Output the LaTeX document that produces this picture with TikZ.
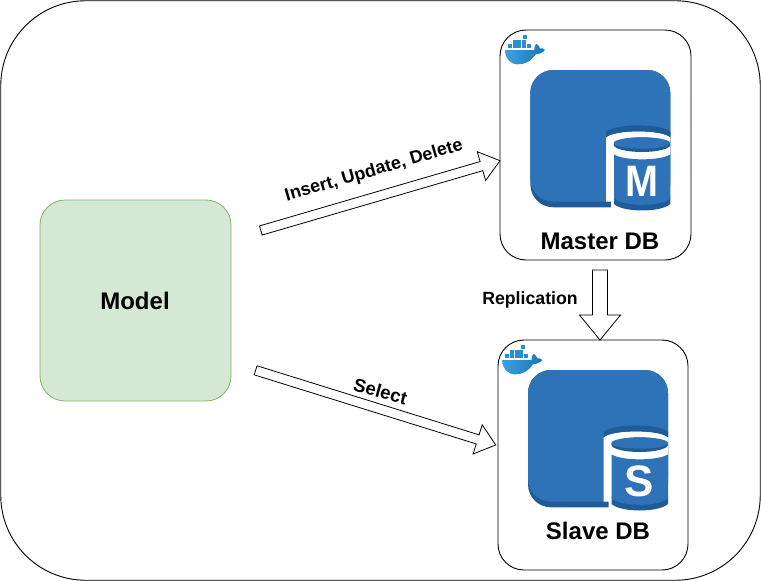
\documentclass[tikz,border=0pt]{standalone}
\usepackage{fontspec}
\setmainfont{Liberation Sans}
\usetikzlibrary{calc}
\definecolor{awsblue}{HTML}{2E73B8}
\definecolor{awsdark}{HTML}{205B99}
\definecolor{dockblue}{HTML}{2B8FCC}
\definecolor{dockdark}{HTML}{1478BC}
\definecolor{dockleft}{HTML}{3FA0DC}
\definecolor{modelfill}{HTML}{D5E8D4}
\definecolor{modelline}{HTML}{82B366}
\tikzset{
  card/.style={draw=black,line width=.9pt,fill=white,rounded corners=26pt,inner sep=0,outer sep=0},
  outercard/.style={draw=black,line width=.9pt,fill=white,rounded corners=85pt,inner sep=0,outer sep=0},
  modelbox/.style={draw=modelline,line width=.8pt,fill=modelfill,rounded corners=25pt,inner sep=0,outer sep=0},
  boldlabel/.style={font=\fontsize{24}{28}\selectfont\bfseries,inner sep=0},
  smalllabel/.style={font=\fontsize{#1}{20}\selectfont\bfseries,inner sep=0},
  blockarrow/.style={draw=black,line width=.8pt,fill=white,line join=miter},
  letter/.style={font=\fontsize{44}{50}\selectfont\bfseries,text=white,inner sep=0},
}
% tail, tip, shaft half width, head half width, head length
\newcommand{\blockarr}[5]{%
  \draw[blockarrow]
    ($(#1)!#3pt!90:(#2)$) --
    ($($(#2)!#5pt!(#1)$)!#3pt!90:(#2)$) --
    ($($(#2)!#5pt!(#1)$)!#4pt!90:(#2)$) --
    (#2) --
    ($($(#2)!#5pt!(#1)$)!#4pt!-90:(#2)$) --
    ($($(#2)!#5pt!(#1)$)!#3pt!-90:(#2)$) --
    ($(#1)!#3pt!-90:(#2)$) -- cycle;}
\newcommand{\dbicon}[4]{%
  \begin{scope}[shift={(#1,#2)},x=.33333pt,y=-.33333pt]
    \fill[awsdark,rounded corners=23pt] (106,150) rectangle (526,562);
    \fill[awsblue,rounded corners=23pt] (106,150) rectangle (526,545);
    \begin{scope}
      \clip (320,300) rectangle (526,590);
      \fill[white] (333,352) .. controls (360,328) and (500,328) .. (526,352)
        -- (540,590) -- (348,590) -- (348,545) -- (333,545) -- cycle;
      \fill[awsdark] (333,335) .. controls (360,310) and (500,310) .. (526,335)
        -- (526,352) .. controls (500,328) and (360,328) .. (333,352) -- cycle;
      \fill[awsdark] (441,374) ellipse [x radius=85,y radius=22];
      \fill[awsblue] (441,369) ellipse [x radius=85,y radius=17];
      \fill[awsdark] (357,530) -- (526,530) -- (526,552) .. controls (497,578) and (385,578) .. (357,552) -- cycle;
      \fill[awsblue] (357,403) .. controls (385,423) and (497,423) .. (526,403)
        -- (526,535) .. controls (497,561) and (385,561) .. (357,535) -- cycle;
    \end{scope}
    \node[letter,#4] at (441,483) {#3};
  \end{scope}}
\newcommand{\whale}[2]{%
  \begin{scope}[shift={(#1,#2)},x=.33333pt,y=-.33333pt]
    \shade[left color=dockleft,right color=dockdark]
      (30,90) -- (118,90) .. controls (116,82) and (120,76) .. (124,71)
      .. controls (130,76) and (134,80) .. (135,85)
      .. controls (140,84) and (146,85) .. (150,90)
      .. controls (144,98) and (132,102) .. (122,103)
      .. controls (108,124) and (88,134) .. (68,133)
      .. controls (44,132) and (30,115) .. (30,90) -- cycle;
    \foreach \cx/\cy in {85/45,53/59,67/59,81/59,39/73,53/73,67/73,81/73,95/73}
      \fill[dockblue] (\cx,\cy) rectangle ++(12,12);
  \end{scope}}
\begin{document}
\begin{tikzpicture}[x=1pt,y=-1pt]
  \useasboundingbox (0,0) rectangle (761,581);
  \node[outercard,minimum width=759.5pt,minimum height=579.5pt] (frame) at (380.5,290.5) {};
  \node[modelbox,minimum width=191pt,minimum height=201pt] (model) at (135.5,300.5) {};
  \node[boldlabel] (modeltext) at (135,301) {Model};
  \node[card,minimum width=191pt,minimum height=230pt] (master) at (595.5,145) {};
  \node[card,minimum width=190pt,minimum height=230pt] (slave) at (593,455) {};
  \dbicon{495}{20}{M}{xscale=.9}
  \dbicon{492.67}{320}{S}{}
  \whale{495}{20}
  \whale{492.3}{330}
  \node[boldlabel] (mastertext) at (600,241) {Master DB};
  \node[boldlabel] (slavetext) at (598,531) {Slave DB};
  \coordinate (w1) at (260.8,230.5);
  \coordinate (w2) at (500,160.7);
  \coordinate (s1) at (255.6,370.3);
  \coordinate (s2) at (495.7,445);
  \coordinate (r1) at (600,270);
  \coordinate (r2) at (600,340);
  \blockarr{w1}{w2}{4.75}{15}{19.3}
  \blockarr{s1}{s2}{4.75}{15.3}{18.9}
  \blockarr{r1}{r2}{7.5}{20.5}{25}
  \node[smalllabel=18,rotate=16.3] (writelabel) at (374,171) {Insert, Update, Delete};
  \node[smalllabel=18.5,rotate=-15.5] (readlabel) at (380.5,391) {Select};
  \node[smalllabel=17.7] (repllabel) at (530,300) {Replication};
\end{tikzpicture}
\end{document}
